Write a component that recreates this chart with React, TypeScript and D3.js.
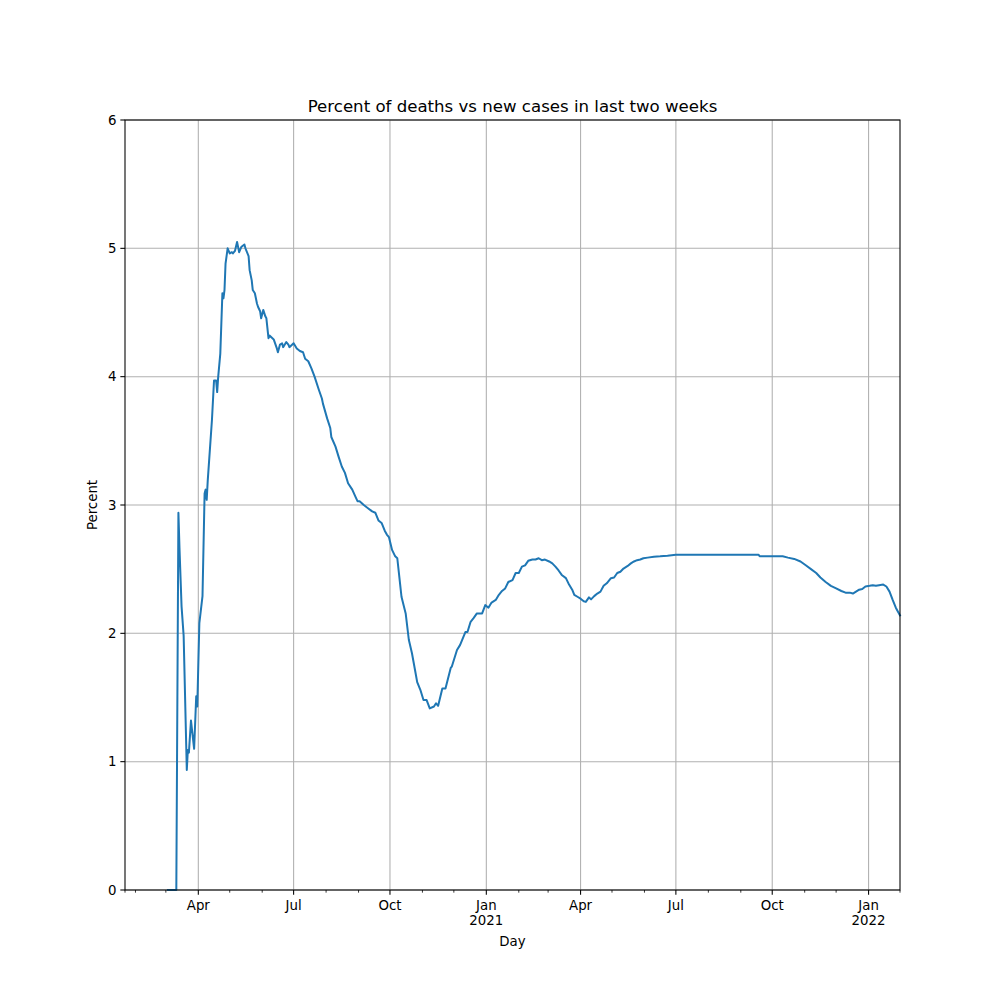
import React from "react";
import * as d3 from "d3";

// ---- data ----
const startDate = "2020-01-22";
const endDate = "2022-01-31";
// day offsets since startDate
const dayOffsets = [
  41, 49, 51, 52, 54, 56, 59, 60, 61, 63, 66, 68, 69, 71, 74, 76, 77, 78, 79, 83,
  85, 87, 88, 89, 91, 93, 94, 95, 96, 98, 100, 102, 103, 105, 107, 109, 111, 114, 115, 118,
  119, 121, 122, 124, 126, 127, 129, 130, 132, 134, 135, 137, 138, 142, 145, 146, 148, 150, 151, 154,
  156, 157, 161, 164, 167, 170, 172, 175, 178, 181, 185, 188, 189, 193, 196, 197, 201, 204, 207, 210,
  213, 217, 220, 222, 224, 228, 232, 236, 239, 242, 245, 248, 250, 252, 255, 258, 260, 263, 264, 268,
  271, 274, 277, 279, 282, 285, 288, 291, 295, 297, 299, 303, 306, 311, 312, 317, 320, 325, 327, 330,
  333, 336, 341, 344, 347, 350, 354, 357, 360, 363, 366, 370, 373, 376, 379, 382, 385, 389, 392, 395,
  398, 401, 405, 408, 411, 414, 417, 421, 424, 427, 429, 432, 435, 438, 440, 443, 445, 448, 451, 454,
  457, 460, 464, 467, 470, 473, 476, 480, 483, 486, 489, 492, 495, 499, 505, 511, 518, 526, 605, 606,
  628, 633, 639, 645, 650, 655, 660, 664, 669, 674, 679, 684, 688, 692, 695, 698, 701, 704, 707, 711,
  714, 717, 720, 724, 727, 730, 733, 736, 740,
];
const percentValues = [
  0, 0, 2.94, 2.67, 2.21, 1.98, 0.935, 1.09, 1.07, 1.32, 1.1, 1.51, 1.43, 2.08, 2.29, 3.09, 3.12, 3.04, 3.19, 3.66,
  3.97, 3.97, 3.88, 4.0, 4.18, 4.65, 4.61, 4.675, 4.88, 5.0, 4.96, 4.97, 4.96, 4.98, 5.05, 4.97, 5.01, 5.03, 5.0, 4.94,
  4.83, 4.75, 4.675, 4.65, 4.57, 4.545, 4.51, 4.455, 4.52, 4.47, 4.455, 4.3, 4.32, 4.29, 4.22, 4.19, 4.25, 4.26, 4.23, 4.27,
  4.25, 4.23, 4.26, 4.22, 4.2, 4.19, 4.14, 4.12, 4.065, 4.0, 3.9, 3.83, 3.79, 3.675, 3.6, 3.53, 3.455, 3.375, 3.3, 3.25,
  3.17, 3.12, 3.065, 3.03, 3.03, 3.0, 2.975, 2.95, 2.94, 2.88, 2.86, 2.8, 2.77, 2.75, 2.65, 2.6, 2.585, 2.36, 2.285, 2.155,
  1.95, 1.845, 1.71, 1.62, 1.56, 1.48, 1.48, 1.415, 1.43, 1.455, 1.435, 1.57, 1.57, 1.73, 1.74, 1.87, 1.91, 2.01, 2.01, 2.09,
  2.12, 2.155, 2.155, 2.22, 2.2, 2.24, 2.26, 2.3, 2.33, 2.35, 2.4, 2.415, 2.47, 2.47, 2.52, 2.53, 2.565, 2.575, 2.575, 2.585,
  2.57, 2.575, 2.56, 2.545, 2.52, 2.49, 2.455, 2.43, 2.38, 2.34, 2.3, 2.285, 2.27, 2.25, 2.245, 2.28, 2.265, 2.29, 2.31, 2.325,
  2.37, 2.39, 2.43, 2.435, 2.47, 2.48, 2.505, 2.525, 2.545, 2.56, 2.57, 2.575, 2.585, 2.59, 2.597, 2.6, 2.605, 2.613, 2.613, 2.6,
  2.6, 2.59, 2.58, 2.56, 2.53, 2.5, 2.47, 2.435, 2.4, 2.37, 2.35, 2.33, 2.317, 2.317, 2.31, 2.325, 2.34, 2.345, 2.365, 2.37,
  2.375, 2.37, 2.375, 2.38, 2.365, 2.325, 2.26, 2.2, 2.14,
];
const yTicks = [0, 1, 2, 3, 4, 5, 6];
const majorTickDates = ["2020-04-01", "2020-07-01", "2020-10-01", "2021-01-01", "2021-04-01", "2021-07-01", "2021-10-01", "2022-01-01"];
const majorTickLabels = ["Apr", "Jul", "Oct", "Jan\n2021", "Apr", "Jul", "Oct", "Jan\n2022"];
const titleText = "Percent of deaths vs new cases in last two weeks";
const xLabelText = "Day";
const yLabelText = "Percent";

const parse = d3.utcParse("%Y-%m-%d");

export default function App() {
  const W = 1000, H = 1000;
  const m = { left: 125, right: 900, top: 120, bottom: 890 };
  const t0 = parse(startDate)!;
  const t1 = parse(endDate)!;
  const x = d3.scaleUtc().domain([t0, t1]).range([m.left, m.right]);
  const y = d3.scaleLinear().domain([0, 6]).range([m.bottom, m.top]);

  const pts = dayOffsets.map((d, i) => ({ date: d3.utcDay.offset(t0, d), v: percentValues[i] }));
  const line = d3.line<{ date: Date; v: number }>().x((d) => x(d.date)).y((d) => y(d.v));

  const majorDates = majorTickDates.map((s) => parse(s)!);
  const majorSet = new Set(majorDates.map((d) => +d));
  const minorDates = [t0, ...d3.utcMonth.range(t0, t1).filter((d) => !majorSet.has(+d)), t1];

  const font = "DejaVu Sans, Liberation Sans, sans-serif";
  const fs = 13.33;

  return (
    <svg width={W} height={H} style={{ display: "block", position: "absolute", left: 0, top: 0, background: "#fff" }} fontFamily={font}>
      <rect x={0} y={0} width={W} height={H} fill="#fff" />
      {/* grid */}
      <g stroke="#b0b0b0" strokeWidth={1.07}>
        {majorDates.map((d, i) => (
          <line key={"gx" + i} x1={x(d)} x2={x(d)} y1={m.top} y2={m.bottom} />
        ))}
        {yTicks.map((t) => (
          <line key={"gy" + t} x1={m.left} x2={m.right} y1={y(t)} y2={y(t)} />
        ))}
      </g>
      {/* line */}
      <path d={line(pts) || ""} fill="none" stroke="#1f77b4" strokeWidth={2} strokeLinejoin="round" strokeLinecap="square" />
      {/* frame */}
      <rect x={m.left} y={m.top} width={m.right - m.left} height={m.bottom - m.top} fill="none" stroke="#000" strokeWidth={1.07} />
      {/* y ticks */}
      {yTicks.map((t) => (
        <g key={"yt" + t}>
          <line x1={m.left - 4.67} x2={m.left} y1={y(t)} y2={y(t)} stroke="#000" strokeWidth={1.07} />
          <text x={m.left - 8.5} y={y(t)} dy="0.36em" textAnchor="end" fontSize={fs} fill="#000">
            {t}
          </text>
        </g>
      ))}
      {/* x minor ticks */}
      {minorDates.map((d, i) => (
        <line key={"mn" + i} x1={x(d)} x2={x(d)} y1={m.bottom} y2={m.bottom + 2.67} stroke="#000" strokeWidth={0.8} />
      ))}
      {/* x major ticks */}
      {majorDates.map((d, i) => {
        const lines = majorTickLabels[i].split("\n");
        return (
          <g key={"mj" + i}>
            <line x1={x(d)} x2={x(d)} y1={m.bottom} y2={m.bottom + 4.67} stroke="#000" strokeWidth={1.07} />
            {lines.map((s, j) => (
              <text key={j} x={x(d)} y={m.bottom + 19.5 + j * 15.5} textAnchor="middle" fontSize={fs} fill="#000">
                {s}
              </text>
            ))}
          </g>
        );
      })}
      {/* labels */}
      <text x={(m.left + m.right) / 2} y={946} textAnchor="middle" fontSize={fs} fill="#000">
        {xLabelText}
      </text>
      <text transform={`translate(97,${(m.top + m.bottom) / 2}) rotate(-90)`} textAnchor="middle" fontSize={fs} fill="#000">
        {yLabelText}
      </text>
      <text x={(m.left + m.right) / 2} y={112} textAnchor="middle" fontSize={16.6} fill="#000">
        {titleText}
      </text>
    </svg>
  );
}
